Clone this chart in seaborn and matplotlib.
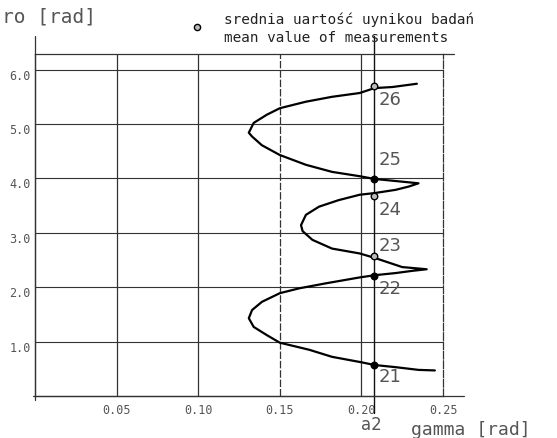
import numpy as np
import pandas as pd
import matplotlib
matplotlib.use("Agg")
import matplotlib.pyplot as plt
import seaborn as sns

# ---- data ----
gamma = [0.245, 0.235, 0.221, 0.208, 0.200, 0.182, 0.168, 0.150, 0.142, 0.134,
         0.131, 0.133, 0.139, 0.150, 0.162, 0.178, 0.199, 0.208, 0.221, 0.231,
         0.240, 0.225, 0.208, 0.199, 0.182, 0.170, 0.164, 0.163, 0.166, 0.174,
         0.186, 0.199, 0.208, 0.221, 0.229, 0.235, 0.225, 0.208, 0.199, 0.182,
         0.166, 0.150, 0.139, 0.133, 0.131, 0.134, 0.142, 0.150, 0.166, 0.182,
         0.199, 0.208, 0.219, 0.234]
ro = [0.47, 0.48, 0.53, 0.57, 0.62, 0.72, 0.85, 0.98, 1.12, 1.27,
      1.43, 1.58, 1.73, 1.89, 1.98, 2.07, 2.18, 2.22, 2.26, 2.30,
      2.33, 2.37, 2.54, 2.62, 2.71, 2.87, 3.03, 3.14, 3.33, 3.48,
      3.60, 3.70, 3.73, 3.79, 3.85, 3.91, 3.94, 3.99, 4.04, 4.12,
      4.25, 4.43, 4.61, 4.77, 4.84, 5.02, 5.17, 5.29, 5.41, 5.50,
      5.57, 5.66, 5.68, 5.74]

a2 = 0.208
meas_ro = [0.57, 2.21, 2.57, 3.68, 3.99, 5.70]
meas_labels = ["21", "22", "23", "24", "25", "26"]
meas_filled = [True, True, False, False, True, False]

x_ticks = [0.05, 0.10, 0.15, 0.20, 0.25]
x_ticklabels = ["0.05", "0.10", "0.15", "0.20", "0.25"]
y_ticks = [1.0, 2.0, 3.0, 4.0, 5.0, 6.0]
y_ticklabels = ["1.0", "2.0", "3.0", "4.0", "5.0", "6.0"]

legend_line1 = "srednia uartość uynikou badań"
legend_line2 = "mean value of measurements"

# ---- figure ----
sns.set_style("white")
plt.rcParams["font.family"] = ["DejaVu Sans Mono", "DejaVu Sans"]

W, H = 557, 438
fig = plt.figure(figsize=(W / 100, H / 100), dpi=100)
fig.patch.set_facecolor("white")
ax = fig.add_axes([35 / W, (H - 396) / H, 408 / W, (396 - 54.2) / H])
ax.set_xlim(0, 0.25)
ax.set_ylim(0, 2 * np.pi)
ax.set_facecolor("white")

lc = "#333333"
tc = "#555555"

for s in ax.spines.values():
    s.set_color(lc)
    s.set_linewidth(0.9)
ax.spines["right"].set_linestyle((0, (6, 1.5)))

# grid
for yv in y_ticks:
    ax.axhline(yv, color=lc, lw=0.8, zorder=1)
for xv in x_ticks[:-1]:
    ls = (0, (6, 1.5)) if abs(xv - 0.15) < 1e-9 else "-"
    ax.axvline(xv, color=lc, lw=0.9, ls=ls, zorder=1)

# extended axis lines
ax.plot([-0.001, 0.263], [0, 0], color=lc, lw=0.9, clip_on=False, zorder=2)
ax.plot([0, 0], [-0.07, 6.62], color=lc, lw=0.9, clip_on=False, zorder=2)
ax.plot([0.25, 0.257], [2 * np.pi, 2 * np.pi], color=lc, lw=0.9, clip_on=False)
ax.plot([a2, a2], [-0.31, 6.62], color="#111111", lw=1.0, clip_on=False, zorder=2)

# curve
df = pd.DataFrame({"gamma": gamma, "ro": ro})
sns.lineplot(data=df, x="gamma", y="ro", sort=False, estimator=None,
             color="black", lw=1.6, ax=ax, zorder=3)

# measurement points
mdf = pd.DataFrame({"gamma": [a2] * len(meas_ro), "ro": meas_ro,
                    "filled": meas_filled})
sns.scatterplot(data=mdf[mdf["filled"]], x="gamma", y="ro", color="black",
                edgecolor="black", s=22, linewidth=1.0, ax=ax, zorder=4)
sns.scatterplot(data=mdf[~mdf["filled"]], x="gamma", y="ro", color="#bbbbbb",
                edgecolor="black", s=22, linewidth=1.0, ax=ax, zorder=4)

label_dy = [-0.22, -0.24, 0.18, -0.26, 0.35, -0.26]
for r, lab, dy in zip(meas_ro, meas_labels, label_dy):
    ax.text(a2 + 0.0025, r + dy, lab, fontsize=13, color=tc, ha="left",
            va="center", family="DejaVu Sans", zorder=5)

# ticks
ax.set_xticks(x_ticks)
ax.set_xticklabels(x_ticklabels)
ax.set_yticks(y_ticks)
ax.set_yticklabels(y_ticklabels)
ax.tick_params(axis="x", length=0, pad=6, labelsize=8.5, labelcolor=tc)
ax.tick_params(axis="y", length=0, pad=3, labelsize=8.5, labelcolor=tc)
for t in ax.get_yticklabels():
    t.set_verticalalignment("top")
ax.set_xlabel("")
ax.set_ylabel("")

# legend-like annotation
ax.scatter([0.0993], [6.78], s=20, color="#bbbbbb", edgecolor="black",
           linewidth=1.0, clip_on=False, zorder=5)
fig.text(224 / W, 1 - 20 / H, legend_line1, fontsize=10.4, color="#222222",
         ha="left", va="center")
fig.text(224 / W, 1 - 38 / H, legend_line2, fontsize=10.4, color="#222222",
         ha="left", va="center")

# axis titles
fig.text(2 / W, 1 - 17 / H, "ro [rad]", fontsize=14, color=tc,
         ha="left", va="center")
fig.text(411 / W, 1 - 430 / H, "gamma [rad]", fontsize=13, color=tc,
         ha="left", va="center")
fig.text(371 / W, 1 - 425 / H, "a2", fontsize=12, color=tc,
         ha="center", va="center", family="DejaVu Sans")

fig.savefig("out.png", dpi=100, facecolor="white")
